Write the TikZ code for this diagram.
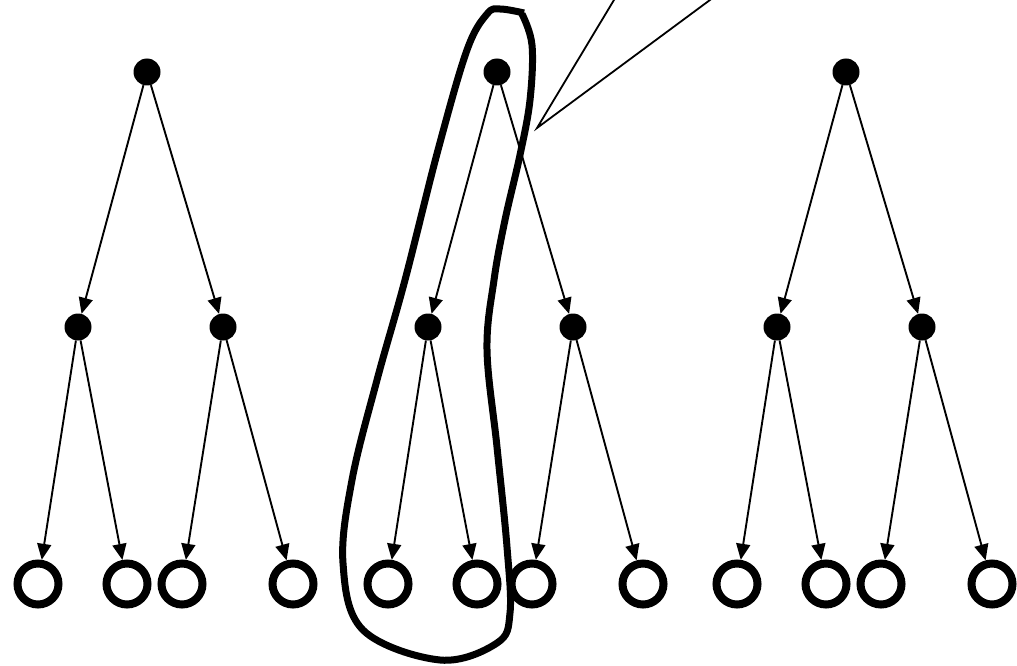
\documentclass[tikz,border=0pt]{standalone}
\usetikzlibrary{arrows.meta}
\begin{document}
\begin{tikzpicture}[x=1pt,y=-1pt,
  dot/.style={circle,fill=black,draw=none,minimum size=27pt,inner sep=0pt},
  leaf/.style={circle,draw=black,line width=8pt,minimum size=41pt,inner sep=0pt,fill=white},
  edge/.style={line width=1.9pt,-{Triangle[length=16pt,width=14pt]}},
  lasso/.style={line width=7pt,line join=round},
  callout/.style={line width=1.8pt}]
\useasboundingbox (0,0) rectangle (1017,666);
\begin{scope}
\clip (0,0) rectangle (1017,666);
% callout lines
\coordinate (tip) at (537,128);
\coordinate (c1) at (626,-20);
\coordinate (c2) at (737,-20);
\draw[callout] (c1) -- (tip) -- (c2);
\end{scope}
\foreach \t/\dx in {a/0,b/350,c/699}{
  \node[dot] (\t r) at (147+\dx,72) {};
  \node[dot] (\t m1) at (78+\dx,327) {};
  \node[dot] (\t m2) at (223+\dx,327) {};
  \node[leaf] (\t l1) at (38+\dx,584) {};
  \node[leaf] (\t l2) at (127+\dx,584) {};
  \node[leaf] (\t l3) at (182+\dx,584) {};
  \node[leaf] (\t l4) at (293+\dx,584) {};
  \draw[edge] (\t r) -- (\t m1);
  \draw[edge] (\t r) -- (\t m2);
  \draw[edge] (\t m1) -- (\t l1);
  \draw[edge] (\t m1) -- (\t l2);
  \draw[edge] (\t m2) -- (\t l3);
  \draw[edge] (\t m2) -- (\t l4);
}
% lasso
\draw[lasso] plot[smooth,tension=0.6] coordinates {
  (522,14) (532,45) (530,100) (520,155) (505,220) (494,280)
  (487,350) (497,447) (507,547) (510,613) (497,643) (440,660)
  (363,630) (343,563) (352,480) (377,380) (405,280) (438,150)
  (467,50) (487,14) (500,9) (524,13)};
\end{tikzpicture}
\end{document}
